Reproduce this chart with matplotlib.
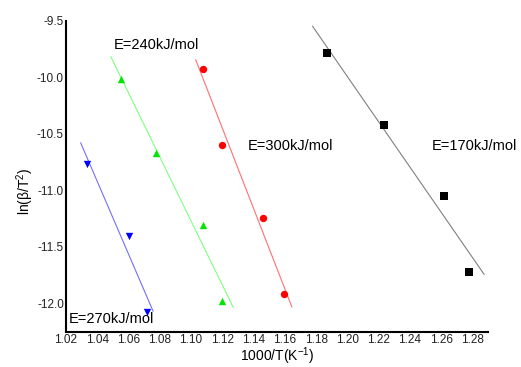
import numpy as np
import matplotlib
matplotlib.use('Agg')
import matplotlib.pyplot as plt

plt.rcParams['font.family'] = ['Liberation Sans', 'DejaVu Sans']
plt.rcParams['mathtext.fontset'] = 'custom'
plt.rcParams['mathtext.rm'] = 'Liberation Sans'
plt.rcParams['mathtext.default'] = 'rm'

# Data: x = 1000/T, y = ln(beta/T^2)
x_170 = [1.1869, 1.2235, 1.2619, 1.2781]
y_170 = [-9.788, -10.423, -11.053, -11.718]
x_300 = [1.1075, 1.1200, 1.1463, 1.1593]
y_300 = [-9.929, -10.597, -11.244, -11.915]
x_240 = [1.0551, 1.0778, 1.1078, 1.1200]
y_240 = [-10.017, -10.670, -11.303, -11.980]
x_270 = [1.0335, 1.0606, 1.0720]
y_270 = [-10.765, -11.406, -12.074]

# x span of each fitted line
span_170 = [1.1778, 1.2875]
span_300 = [1.1030, 1.1645]
span_240 = [1.0487, 1.1270]
span_270 = [1.0294, 1.0757]

labels = ['E=170kJ/mol', 'E=300kJ/mol', 'E=240kJ/mol', 'E=270kJ/mol']

series = [
    (x_170, y_170, span_170, 'black', 's', 'grey'),
    (x_300, y_300, span_300, 'red', 'o', '#ff7070'),
    (x_240, y_240, span_240, '#00e600', '^', '#80ff80'),
    (x_270, y_270, span_270, 'blue', 'v', '#7070ff'),
]

fig = plt.figure(figsize=(5.21, 3.67), dpi=100)
ax = fig.add_axes([0.1267, 0.0962, 0.81, 0.8474])

for xs, ys, span, c, m, lc in series:
    k, b = np.polyfit(xs, ys, 1)
    xl = np.array(span)
    ax.plot(xl, k * xl + b, color=lc, lw=0.8, zorder=1)
    ax.scatter(xs, ys, color=c, marker=m, s=28, zorder=2, linewidths=0)

ax.set_xlim(1.02, 1.29)
ax.set_ylim(-12.25, -9.5)
ax.set_xticks(np.arange(1.02, 1.2801, 0.02))
ax.set_yticks([-9.5, -10.0, -10.5, -11.0, -11.5, -12.0])
ax.xaxis.set_major_formatter(matplotlib.ticker.FormatStrFormatter('%.2f'))
ax.yaxis.set_major_formatter(matplotlib.ticker.FormatStrFormatter('%.1f'))
ax.tick_params(length=0, pad=1.5, labelsize=8.5, colors='#222222')

for s in ['top', 'right']:
    ax.spines[s].set_visible(False)
for s in ['left', 'bottom']:
    ax.spines[s].set_linewidth(1.5)

ax.set_xlabel('1000/T(K$^{-1}$)', fontsize=10, va='center')
ax.set_ylabel('ln(β/T$^{2}$)', fontsize=10, va='center')
ax.xaxis.set_label_coords(0.5, -0.08)
ax.yaxis.set_label_coords(-0.097, 0.45)

ax.text(1.254, -10.607, labels[0], fontsize=10.5, va='center')
ax.text(1.136, -10.607, labels[1], fontsize=10.5, va='center')
ax.text(1.0508, -9.714, labels[2], fontsize=10.5, va='center')
ax.text(1.022, -12.142, labels[3], fontsize=10.5, va='center')

fig.savefig('out.png', dpi=100)
